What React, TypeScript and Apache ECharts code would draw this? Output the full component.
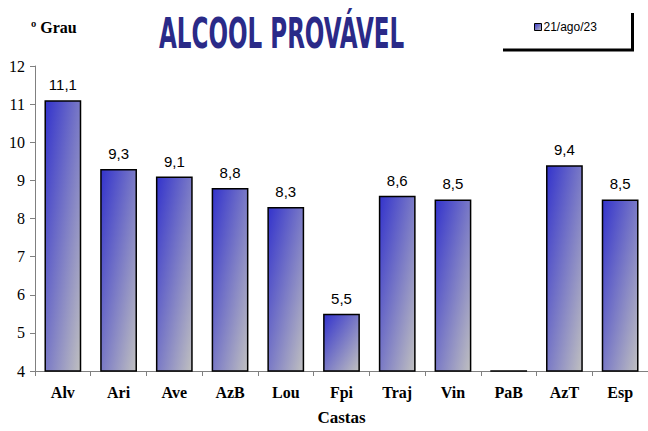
import React, { useEffect, useRef } from "react";
import * as echarts from "echarts";

const categories = ["Alv", "Ari", "Ave", "AzB", "Lou", "Fpi", "Traj", "Vin", "PaB", "AzT", "Esp"];
const values = [11.1, 9.3, 9.1, 8.8, 8.3, 5.5, 8.6, 8.5, 0, 9.4, 8.5];
const seriesName = "21/ago/23";
const yMin = 4;
const yMax = 12;
const yInterval = 1;

export default function App() {
  const ref = useRef<HTMLDivElement>(null);
  useEffect(() => {
    if (!ref.current) return;
    const chart = echarts.init(ref.current, null, { renderer: "svg" });
    const grad = () =>
      new echarts.graphic.LinearGradient(0, 0, 1, 1, [
        { offset: 0, color: "#3333cc" },
        { offset: 1, color: "#c0c0c0" },
      ]);
    // values below the axis minimum are drawn as a flat outline on the axis
    const data = values.map((v) => ({
      value: v > yMin ? v : yMin + 0.02,
      label: { show: v > yMin },
    }));
    chart.setOption({
      animation: false,
      backgroundColor: "#ffffff",
      grid: { left: 35, right: -4, top: 66, bottom: 57, containLabel: false },
      legend: {
        left: 529,
        top: 16,
        icon: "rect",
        itemWidth: 7,
        itemHeight: 7,
        itemGap: 0,
        textStyle: { fontFamily: "Liberation Sans", fontSize: 12, color: "#000", padding: [0, 0, 0, -3] },
        data: [{ name: seriesName, itemStyle: { borderColor: "#000", borderWidth: 1 } }],
      },
      xAxis: {
        type: "category",
        data: categories,
        axisLine: { lineStyle: { color: "#808080", width: 1 } },
        axisTick: { show: true, alignWithLabel: false, length: 5, lineStyle: { color: "#808080" } },
        axisLabel: {
          fontFamily: "Liberation Serif",
          fontWeight: "bold",
          fontSize: 16,
          color: "#000",
          margin: 13,
          interval: 0,
        },
        name: "Castas",
        nameLocation: "middle",
        nameGap: 38,
        nameTextStyle: { fontFamily: "Liberation Serif", fontWeight: "bold", fontSize: 17, color: "#000" },
      },
      yAxis: {
        type: "value",
        min: yMin,
        max: yMax,
        interval: yInterval,
        axisLine: { show: true, lineStyle: { color: "#808080", width: 1 } },
        axisTick: { show: true, length: 5, lineStyle: { color: "#808080" } },
        splitLine: { show: false },
        axisLabel: { fontFamily: "Liberation Serif", fontSize: 16, color: "#000", margin: 10 },
      },
      series: [
        {
          name: seriesName,
          type: "bar",
          data,
          barCategoryGap: "34%",
          itemStyle: { color: grad(), borderColor: "#000", borderWidth: 1.5 },
          label: {
            show: true,
            position: "top",
            distance: 8,
            fontFamily: "Liberation Sans",
            fontSize: 15,
            color: "#000",
            formatter: (p: any) => String(p.value).replace(".", ","),
          },
        },
      ],
      graphic: [
        {
          type: "text",
          left: 31,
          top: 19,
          style: { text: "º Grau", font: "bold 16px 'Liberation Serif'", fill: "#000" },
        },
        {
          type: "text",
          x: 159,
          y: 12,
          scaleX: 0.61,
          style: {
            text: "ALCOOL PROVÁVEL",
            font: "bold 42px 'DejaVu Sans Condensed'",
            fill: "#2a2a88",
          },
        },
        { type: "line", shape: { x1: 503, y1: 50, x2: 634, y2: 50 }, style: { stroke: "#000", lineWidth: 3 } },
        { type: "line", shape: { x1: 632.5, y1: 13, x2: 632.5, y2: 51 }, style: { stroke: "#000", lineWidth: 3 } },
      ],
    });
    return () => chart.dispose();
  }, []);
  return (
    <div
      ref={ref}
      style={{ position: "absolute", left: 0, top: 0, width: 648, height: 431 }}
    />
  );
}
